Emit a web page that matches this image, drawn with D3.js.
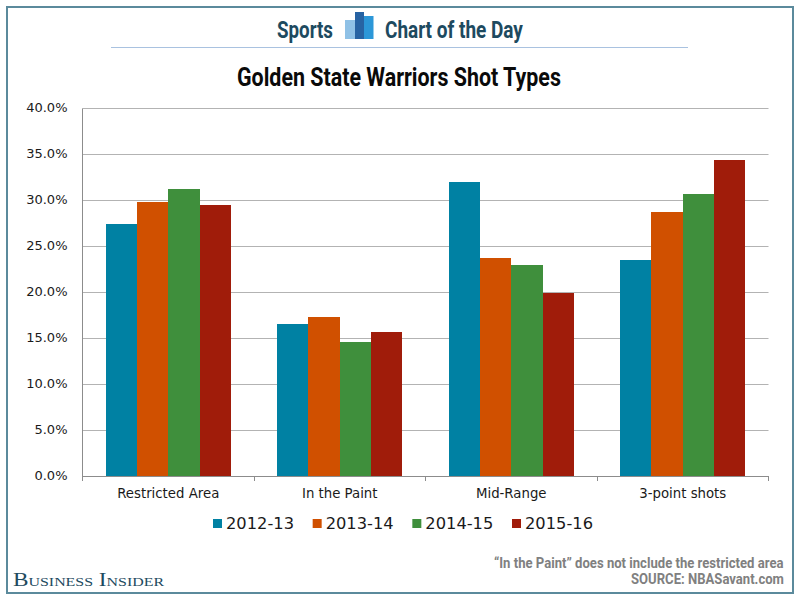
<!DOCTYPE html>
<html><head><meta charset="utf-8">
<script src="https://cdn.jsdelivr.net/npm/d3@7"></script>
<style>html,body{margin:0;padding:0;background:#fff}svg{display:block}</style></head>
<body><svg id="c" width="800" height="600"></svg>
<script>
const categories = ["Restricted Area","In the Paint","Mid-Range","3-point shots"];
const seasons = ["2012-13","2013-14","2014-15","2015-16"];
const colors = ["#0081a3","#d05000","#3f8f3c","#a01c0a"];
const s2012 = [27.5,16.6,32.0,23.5];
const s2013 = [29.8,17.3,23.8,28.8];
const s2014 = [31.3,14.6,23.0,30.7];
const s2015 = [29.5,15.7,20.0,34.4];
const seriesValues = [s2012,s2013,s2014,s2015];
const yTicks = [0,5,10,15,20,25,30,35,40];

const svg = d3.select("#c");
const cond = "Roboto, sans-serif";
const frame = "#5b8a9c";
svg.append("rect").attr("x",7).attr("y",7).attr("width",786).attr("height",586)
  .attr("fill","#fff").attr("stroke",frame).attr("stroke-width",2);

function fitText(x,y,str,size,len,fill){
  const t = svg.append("text").text(str)
   .attr("font-family",cond).attr("font-weight",700).attr("font-size",size)
   .attr("fill",fill);
  const k = len / t.node().getComputedTextLength();
  t.attr("transform",`translate(${x},${y}) scale(${k},1)`);
  return t;
}
fitText(277,37.5,"Sports",24,56,"#1d4a60");
fitText(385,37.5,"Chart of the Day",24,138,"#1d4a60");
svg.append("rect").attr("x",345).attr("y",20).attr("width",19).attr("height",19).attr("fill","#8fc1e6");
svg.append("rect").attr("x",364).attr("y",16).attr("width",9.5).attr("height",23).attr("fill","#2c97d8");
svg.append("rect").attr("x",355).attr("y",12).attr("width",9).attr("height",27).attr("fill","#2763a3");
svg.append("line").attr("x1",111).attr("x2",688).attr("y1",47.5).attr("y2",47.5).attr("stroke","#a9c2e0").attr("stroke-width",1);
fitText(237,86,"Golden State Warriors Shot Types",26,324,"#0a0a0a");

const m = {l:82.5,r:768.5,t:108.5,b:476.5};
const y = d3.scaleLinear().domain([0,40]).range([m.b,m.t]);
const x0 = d3.scaleBand().domain(categories).range([m.l,m.r]).paddingInner(0.271).paddingOuter(0.1355);
const x1 = d3.scaleBand().domain(seasons).range([0,x0.bandwidth()]);

const grid = svg.append("g");
grid.selectAll("line").data(yTicks.filter(d=>d>0)).join("line")
  .attr("x1",m.l).attr("x2",m.r).attr("y1",d=>Math.floor(y(d))+.5).attr("y2",d=>Math.floor(y(d))+.5)
  .attr("stroke","#b3b3b3").attr("stroke-width",1);

seasons.forEach((s,i)=>{
  svg.append("g").attr("shape-rendering","crispEdges").selectAll("rect").data(seriesValues[i]).join("rect")
   .attr("x",(d,j)=>x0(categories[j])+x1(s)).attr("width",x1.bandwidth())
   .attr("y",d=>y(d)).attr("height",d=>476-y(d)).attr("fill",colors[i]);
});

const font = "'DejaVu Sans', Verdana, sans-serif";
const yAxis = svg.append("g").attr("transform",`translate(${m.l},-1)`)
  .call(d3.axisLeft(y).tickValues(yTicks).tickSize(0).tickPadding(15).tickFormat(d=>d.toFixed(1)+"%"));
yAxis.select(".domain").attr("stroke","none");
yAxis.selectAll("text").attr("font-family",font).attr("font-size",13).attr("fill","#1a1a1a");
svg.append("line").attr("x1",m.l).attr("x2",m.l).attr("y1",m.t).attr("y2",m.b).attr("stroke","#8c8c8c");

const xOuter = d3.scalePoint().domain(d3.range(5)).range([m.l,m.r]);
svg.append("line").attr("x1",m.l).attr("x2",m.r).attr("y1",476.5).attr("y2",476.5).attr("stroke","#8c8c8c");
svg.append("g").selectAll("line").data(d3.range(5)).join("line")
  .attr("x1",d=>Math.floor(xOuter(d))+.5).attr("x2",d=>Math.floor(xOuter(d))+.5)
  .attr("y1",476).attr("y2",481).attr("stroke","#8c8c8c");
svg.append("g").selectAll("text").data(categories).join("text")
  .attr("x",d=>x0(d)+x0.bandwidth()/2).attr("y",498).attr("text-anchor","middle")
  .attr("font-family",font).attr("font-size",13.3).attr("fill","#1a1a1a").text(d=>d);

const legX = d3.scalePoint().domain(seasons).range([213,512]);
const leg = svg.append("g").selectAll("g").data(seasons).join("g")
  .attr("transform",d=>`translate(${legX(d)},0)`);
leg.append("rect").attr("y",519).attr("width",9).attr("height",9).attr("fill",(d,i)=>colors[i]);
leg.append("text").attr("x",13).attr("y",529).attr("font-family",font).attr("font-size",16)
  .attr("fill","#1a1a1a").attr("textLength",68).attr("lengthAdjust","spacingAndGlyphs").text(d=>d);

fitText(494,568,"“In the Paint” does not include the restricted area",14,290,"#808080");
fitText(631,584,"SOURCE: NBASavant.com",14,153,"#808080");

svg.append("text").attr("x",13).attr("y",586).attr("font-family","'Liberation Serif', serif")
  .attr("fill","#1d4a60").attr("font-size",19).attr("textLength",151).attr("lengthAdjust","spacingAndGlyphs")
  .style("font-variant","small-caps").text("Business Insider");
</script></body></html>
